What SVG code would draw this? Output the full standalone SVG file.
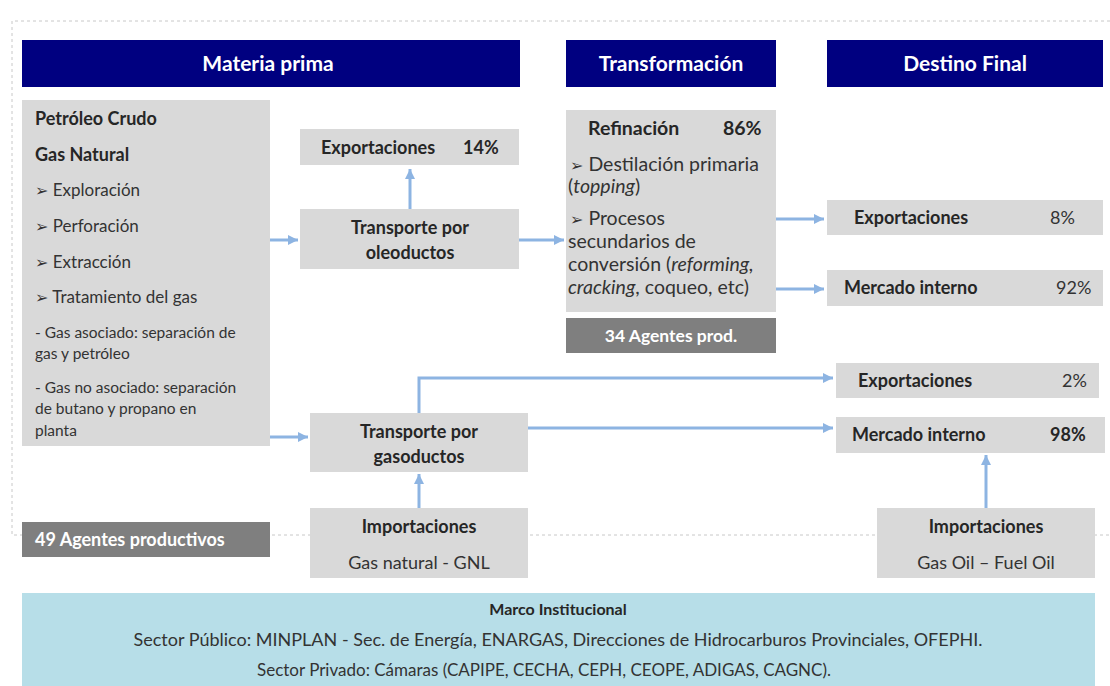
<svg xmlns="http://www.w3.org/2000/svg" width="1110" height="686" viewBox="0 0 1110 686">
  <style>
    .hdr { fill: #000080; }
    .hdr-t { font-family: Lato, "Open Sans", "Liberation Sans", sans-serif; font-size: 21px; font-weight: bold; fill: #ffffff; text-anchor: middle; }
    .box { fill: #d9d9d9; }
    .dark { fill: #7f7f7f; }
    .t { font-family: Lato, "Open Sans", "Liberation Sans", sans-serif; font-size: 18px; fill: #333333; }
    .b { font-weight: bold; fill: #262626; }
    .l { font-size: 17px; }
    .s { font-size: 15.5px; }
    .m { font-size: 19.5px; }
    .c { text-anchor: middle; }
    .w { fill: #ffffff; font-weight: bold; }
    .bul { font-family: "DejaVu Sans", sans-serif; font-size: 16px; }
    .conn { stroke: #8db4e2; stroke-width: 3; fill: none; marker-end: url(#ah); }
    .frame { stroke: #c8c8c8; stroke-width: 1; stroke-dasharray: 3 3; fill: none; }
  </style>
  <defs>
    <marker id="ah" markerUnits="userSpaceOnUse" markerWidth="12" markerHeight="12" refX="10" refY="6" orient="auto">
      <path d="M0,1 L10,6 L0,11 Z" fill="#8db4e2"/>
    </marker>
  </defs>

  <rect width="1110" height="686" fill="#ffffff"/>

  <!-- dotted frame around the production chain -->
  <path class="frame" d="M1110,21 H12 V535 H1110"/>

  <!-- column headers -->
  <g id="hdr-materia">
    <rect class="hdr" x="22" y="40" width="498" height="47"/>
    <text class="hdr-t" x="268" y="71">Materia prima</text>
  </g>
  <g id="hdr-transformacion">
    <rect class="hdr" x="566" y="40" width="210" height="47"/>
    <text class="hdr-t" x="671" y="71">Transformación</text>
  </g>
  <g id="hdr-destino">
    <rect class="hdr" x="827" y="40" width="276" height="47"/>
    <text class="hdr-t" x="965" y="71">Destino Final</text>
  </g>

  <!-- raw material -->
  <g id="materia-prima">
    <rect class="box" x="22" y="100" width="248" height="346"/>
    <text class="t b" x="35" y="125">Petróleo Crudo</text>
    <text class="t b" x="35" y="161">Gas Natural</text>
    <text class="t l" x="35" y="196"><tspan class="bul">➢</tspan> Exploración</text>
    <text class="t l" x="35" y="232"><tspan class="bul">➢</tspan> Perforación</text>
    <text class="t l" x="35" y="268"><tspan class="bul">➢</tspan> Extracción</text>
    <text class="t l" x="35" y="303"><tspan class="bul">➢</tspan> Tratamiento del gas</text>
    <text class="t s" x="35" y="338"> - Gas asociado: separación de</text>
    <text class="t s" x="35" y="359">gas y petróleo</text>
    <text class="t s" x="35" y="393">- Gas no asociado: separación</text>
    <text class="t s" x="35" y="414">de butano y propano en</text>
    <text class="t s" x="35" y="436">planta</text>
  </g>
  <g id="agentes-49">
    <rect class="dark" x="22" y="522" width="248" height="35"/>
    <text class="t w" x="35" y="546">49 Agentes productivos</text>
  </g>

  <!-- oil pipeline branch -->
  <g id="export-14">
    <rect class="box" x="300" y="129" width="219" height="36"/>
    <text class="t b" x="321" y="154">Exportaciones</text>
    <text class="t b" x="463" y="154">14%</text>
  </g>
  <g id="oleoductos">
    <rect class="box" x="300" y="209" width="219" height="60"/>
    <text class="t b c" x="410" y="234">Transporte por</text>
    <text class="t b c" x="410" y="259">oleoductos</text>
  </g>

  <!-- refining -->
  <g id="refinacion">
    <rect class="box" x="566" y="110" width="210" height="202"/>
    <text class="t m b" x="588" y="135">Refinación</text>
    <text class="t m b" x="723" y="135">86%</text>
    <text class="t m" x="570" y="171"><tspan class="bul">➢</tspan> Destilación primaria</text>
    <text class="t m" x="568" y="193">(<tspan font-style="italic">topping</tspan>)</text>
    <text class="t m" x="570" y="225"><tspan class="bul">➢</tspan> Procesos</text>
    <text class="t m" x="568" y="248">secundarios de</text>
    <text class="t m" x="568" y="271">conversión (<tspan font-style="italic">reforming,</tspan></text>
    <text class="t m" x="568" y="294"><tspan font-style="italic">cracking</tspan>, coqueo, etc)</text>
  </g>
  <g id="agentes-34">
    <rect class="dark" x="566" y="318" width="210" height="35"/>
    <text class="t w c" x="671" y="342" style="font-size:17.5px">34 Agentes prod.</text>
  </g>

  <!-- final destinations of refined products -->
  <g id="export-8">
    <rect class="box" x="827" y="200" width="276" height="35"/>
    <text class="t b" x="854" y="224">Exportaciones</text>
    <text class="t" x="1050" y="224">8%</text>
  </g>
  <g id="mercado-92">
    <rect class="box" x="827" y="270" width="276" height="36"/>
    <text class="t b" x="844" y="294">Mercado interno</text>
    <text class="t" x="1056" y="294">92%</text>
  </g>

  <!-- gas pipeline branch -->
  <g id="gasoductos">
    <rect class="box" x="310" y="413" width="218" height="59"/>
    <text class="t b c" x="419" y="438">Transporte por</text>
    <text class="t b c" x="419" y="463">gasoductos</text>
  </g>
  <g id="import-gnl">
    <rect class="box" x="310" y="508" width="218" height="70"/>
    <text class="t b c" x="419" y="533">Importaciones</text>
    <text class="t c" x="419" y="569">Gas natural - GNL</text>
  </g>
  <g id="export-2">
    <rect class="box" x="836" y="363" width="263" height="35"/>
    <text class="t b" x="858" y="387">Exportaciones</text>
    <text class="t" x="1062" y="387">2%</text>
  </g>
  <g id="mercado-98">
    <rect class="box" x="836" y="417" width="269" height="36"/>
    <text class="t b" x="852" y="441">Mercado interno</text>
    <text class="t b" x="1050" y="441">98%</text>
  </g>
  <g id="import-gasoil">
    <rect class="box" x="877" y="508" width="218" height="70"/>
    <text class="t b c" x="986" y="533">Importaciones</text>
    <text class="t c" x="986" y="569">Gas Oil – Fuel Oil</text>
  </g>

  <!-- institutional framework -->
  <g id="marco">
    <rect x="22" y="593" width="1073" height="93" fill="#b7dee8"/>
    <text class="t b c" x="558" y="615" style="font-size:16px">Marco Institucional</text>
    <text class="t c" x="558" y="646">Sector Público: MINPLAN -  Sec. de Energía, ENARGAS, Direcciones de Hidrocarburos Provinciales, OFEPHI.</text>
    <text class="t c" x="544" y="676" style="font-size:17px">Sector Privado: Cámaras (CAPIPE, CECHA, CEPH, CEOPE, ADIGAS, CAGNC).</text>
  </g>

  <!-- flows -->
  <g id="connectors">
    <path class="conn" d="M270,240 H298"/>
    <path class="conn" d="M410,209 V169"/>
    <path class="conn" d="M519,240 H564"/>
    <path class="conn" d="M776,219 H824"/>
    <path class="conn" d="M776,289 H824"/>
    <path class="conn" d="M270,437 H308"/>
    <path class="conn" d="M419,413 V378 H833"/>
    <path class="conn" d="M528,428 H833"/>
    <path class="conn" d="M419,508 V474"/>
    <path class="conn" d="M986,508 V455"/>
  </g>
</svg>
